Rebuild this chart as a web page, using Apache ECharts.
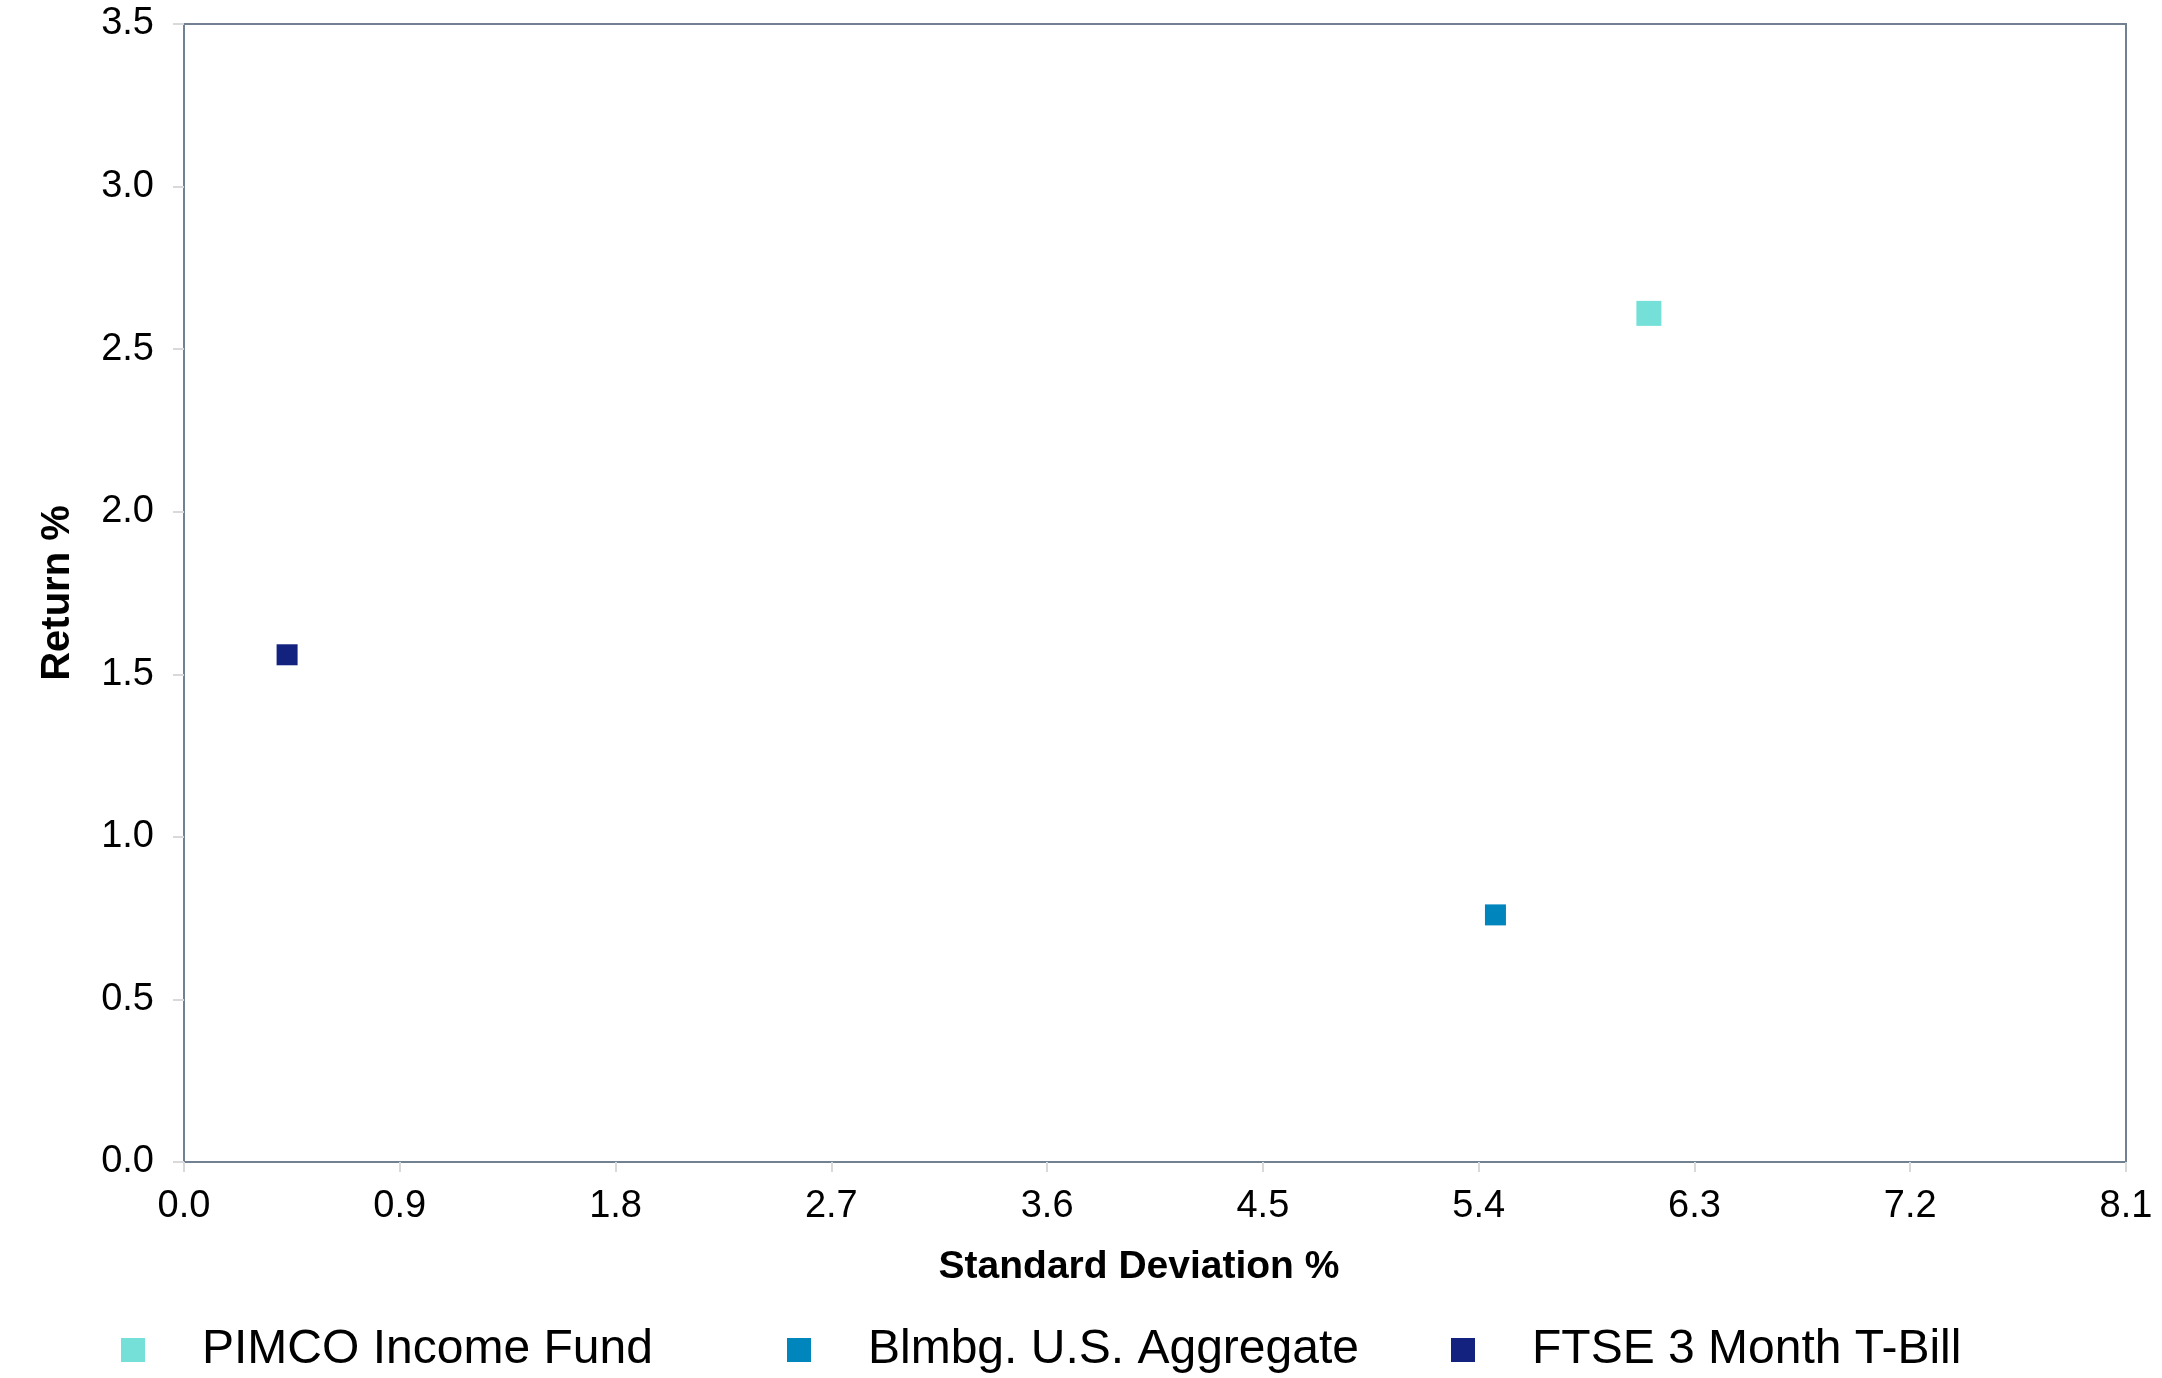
<!DOCTYPE html>
<html>
<head>
<meta charset="utf-8">
<script src="https://cdn.jsdelivr.net/npm/echarts@6/dist/echarts.min.js"></script>
<style>
html,body{margin:0;padding:0;background:#fff;}
#chart{width:2162px;height:1378px;}
</style>
</head>
<body>
<div id="chart"></div>
<script>
// Data
var seriesNames = ['PIMCO Income Fund', 'Blmbg. U.S. Aggregate', 'FTSE 3 Month T-Bill'];
var stdDev = [6.11, 5.47, 0.43];
var returns = [2.61, 0.76, 1.56];
var colors = ['#74E0D8', '#0085BD', '#13217F'];
var symbolSizes = [25, 21, 21];
var xTicks = [0.0, 0.9, 1.8, 2.7, 3.6, 4.5, 5.4, 6.3, 7.2, 8.1];
var yTicks = [0.0, 0.5, 1.0, 1.5, 2.0, 2.5, 3.0, 3.5];

var FONT = '"Liberation Sans", Arial, sans-serif';
var chart = echarts.init(document.getElementById('chart'));

var series = seriesNames.map(function (n, i) {
  return {
    name: n,
    type: 'scatter',
    symbol: 'rect',
    symbolSize: symbolSizes[i],
    itemStyle: { color: colors[i], opacity: 1 },
    data: [[stdDev[i], returns[i]]]
  };
});

var legendLefts = [116, 782, 1446];
var legends = seriesNames.map(function (n, i) {
  return {
    data: [{ name: n, icon: 'rect' }],
    left: legendLefts[i],
    top: 1321,
    itemWidth: 24,
    itemHeight: 24,
    textStyle: { fontFamily: FONT, fontSize: 48, color: '#000', padding: [0, 0, 0, 52] },
    selectedMode: false
  };
});

chart.setOption({
  backgroundColor: '#fff',
  animation: false,
  color: colors,
  grid: {
    left: 184, top: 24, right: 36, bottom: 216,
    show: true, borderColor: '#728191', borderWidth: 2, backgroundColor: 'transparent'
  },
  legend: legends,
  xAxis: {
    type: 'value',
    min: xTicks[0], max: xTicks[xTicks.length - 1], interval: 0.9,
    name: 'Standard Deviation %',
    nameLocation: 'middle',
    nameGap: 86,
    nameTextStyle: { fontFamily: FONT, fontSize: 39, fontWeight: 'bold', color: '#000', padding: [0, 32, 0, 0] },
    axisLine: { show: true, lineStyle: { color: '#728191', width: 2 } },
    axisTick: { show: true, length: 10, lineStyle: { color: '#d9d9d9', width: 2 } },
    axisLabel: { fontFamily: FONT, fontSize: 38, color: '#000', margin: 26, formatter: function (v) { return v.toFixed(1); } },
    splitLine: { show: false }
  },
  yAxis: {
    type: 'value',
    min: yTicks[0], max: yTicks[yTicks.length - 1], interval: 0.5,
    name: 'Return %',
    nameLocation: 'middle',
    nameGap: 106,
    nameTextStyle: { fontFamily: FONT, fontSize: 40, fontWeight: 'bold', color: '#000' },
    axisLine: { show: true, lineStyle: { color: '#728191', width: 2 } },
    axisTick: { show: true, length: 11, lineStyle: { color: '#d9d9d9', width: 2 } },
    axisLabel: { fontFamily: FONT, fontSize: 38, color: '#000', margin: 30, formatter: function (v) { return v.toFixed(1); } },
    splitLine: { show: false }
  },
  series: series
});
</script>
</body>
</html>
